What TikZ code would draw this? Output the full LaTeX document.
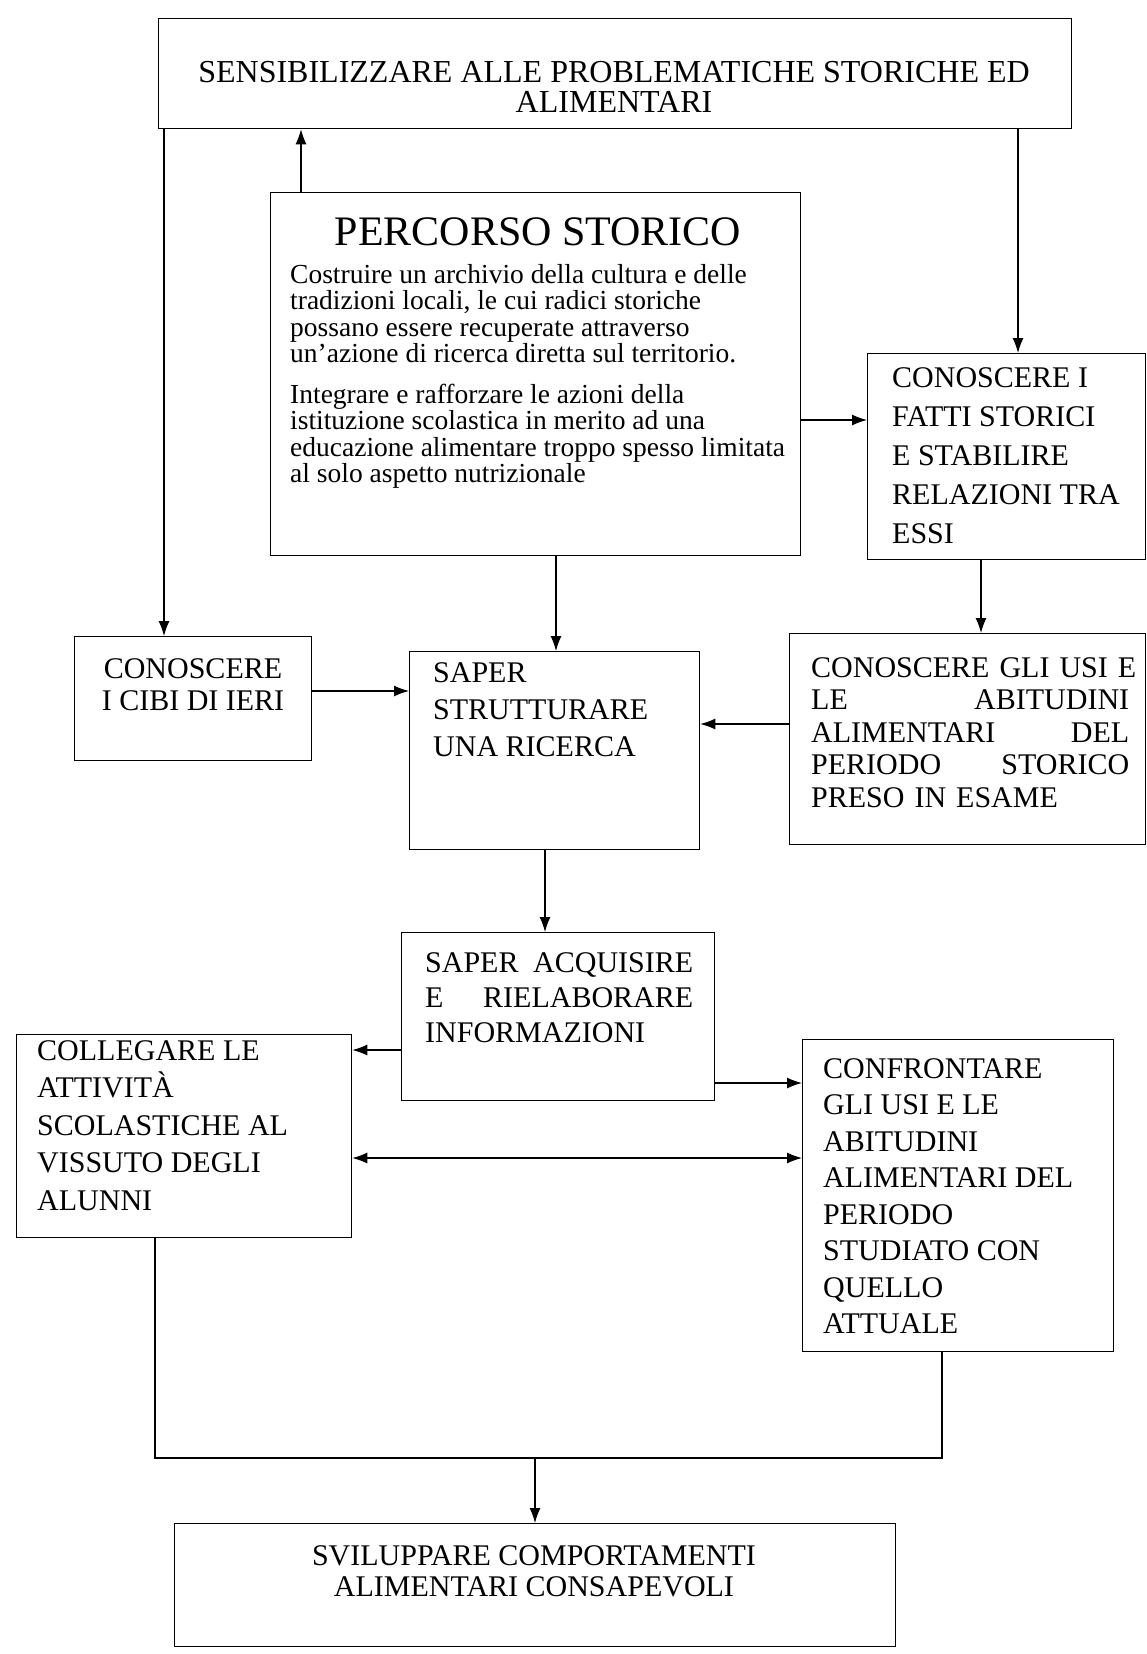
\documentclass[tikz,border=0pt]{standalone}
\usepackage{fontspec}
\setmainfont{Liberation Serif}
\usetikzlibrary{arrows.meta,calc}

\begin{document}
\begin{tikzpicture}[x=1pt,y=-1pt,
  box/.style={draw, line width=1.3pt, anchor=north west, inner sep=0pt},
  caps/.style={font=\fontsize{30}{#1}\selectfont, inner sep=0pt, align=left},
  arr/.style={line width=1.2pt, -{Latex[length=15pt,width=11pt]}},
  dblarr/.style={line width=1.2pt, {Latex[length=15pt,width=11pt]}-{Latex[length=15pt,width=11pt]}},
  link/.style={line width=1.2pt}]
\useasboundingbox[fill=white] (0,0) rectangle (1147,1654);

% ---------- boxes ----------
\node[box, minimum width=913pt, minimum height=110pt] (top) at (158,18) {};
\node[box, minimum width=530pt, minimum height=363pt] (percorso) at (270,192) {};
\node[box, minimum width=278pt, minimum height=206pt] (fatti) at (867,353) {};
\node[box, minimum width=237pt, minimum height=124pt] (cibi) at (74,636) {};
\node[box, minimum width=290pt, minimum height=198pt] (strutt) at (409,651) {};
\node[box, minimum width=356pt, minimum height=211pt] (usi) at (789,633) {};
\node[box, minimum width=313pt, minimum height=168pt] (acq) at (401,932) {};
\node[box, minimum width=335pt, minimum height=203pt] (colleg) at (16,1034) {};
\node[box, minimum width=311pt, minimum height=312pt] (confr) at (802,1039) {};
\node[box, minimum width=721pt, minimum height=123pt] (svil) at (174,1523) {};

% ---------- texts ----------
\node[inner sep=0pt, anchor=north, align=center, font=\fontsize{32}{30}\selectfont]
  (top-t) at (614,61) {SENSIBILIZZARE ALLE PROBLEMATICHE STORICHE ED\\ALIMENTARI};

\node[inner sep=0pt, anchor=center, font=\fontsize{42}{42}\selectfont]
  (percorso-title) at (538,232) {PERCORSO STORICO};
\node[inner sep=0pt, anchor=north west, align=left, font=\fontsize{27.5}{26.5}\selectfont]
  (percorso-t) at (290,264) {Costruire un archivio della cultura e delle\\
  tradizioni locali, le cui radici storiche\\
  possano essere recuperate attraverso\\
  un’azione di ricerca diretta sul territorio.\\[14pt]
  Integrare e rafforzare le azioni della\\
  istituzione scolastica in merito ad una\\
  educazione alimentare troppo spesso limitata\\
  al solo aspetto nutrizionale};

\node[caps=39, anchor=north west] (fatti-t) at (892,367)
  {CONOSCERE I\\FATTI STORICI\\E STABILIRE\\RELAZIONI TRA\\ESSI};
\node[caps=32, anchor=north, align=center] (cibi-t) at (193,658)
  {CONOSCERE\\I CIBI DI IERI};
\node[caps=37, anchor=north west] (strutt-t) at (433,662)
  {SAPER\\STRUTTURARE\\UNA RICERCA};
\node[caps=32.5, anchor=north west, text width=318pt] (usi-t) at (811,657)
  {\mbox{CONOSCERE GLI USI E}\\LE\hfill ABITUDINI\\ALIMENTARI\hfill DEL\\PERIODO\hfill STORICO\\PRESO IN ESAME};
\node[caps=35, anchor=north west, text width=268pt] (acq-t) at (425,952)
  {SAPER\hfill ACQUISIRE\\E\hfill RIELABORARE\\INFORMAZIONI};
\node[caps=37.5, anchor=north west] (colleg-t) at (37,1040)
  {COLLEGARE LE\\ATTIVITÀ\\SCOLASTICHE AL\\VISSUTO DEGLI\\ALUNNI};
\node[caps=36.5, anchor=north west] (confr-t) at (823,1058)
  {CONFRONTARE\\GLI USI E LE\\ABITUDINI\\ALIMENTARI DEL\\PERIODO\\STUDIATO CON\\QUELLO\\ATTUALE};
\node[caps=31, anchor=north, align=center] (svil-t) at (534,1545)
  {SVILUPPARE COMPORTAMENTI\\ALIMENTARI CONSAPEVOLI};

% ---------- connector anchor points ----------
\coordinate (topL) at ($(top.south west)+(6,0)$);
\coordinate (percT) at ($(percorso.north west)+(31,0)$);
\coordinate (fattiT) at ($(fatti.north west)+(151,0)$);
\coordinate (percR) at ($(percorso.north east)+(0,228)$);
\coordinate (fattiB) at ($(fatti.south west)+(114,0)$);
\coordinate (percB) at ($(percorso.south west)+(286,0)$);
\coordinate (cibiR) at ($(cibi.north east)+(0,55)$);
\coordinate (usiL) at ($(usi.north west)+(0,91)$);
\coordinate (struttB) at ($(strutt.south west)+(136,0)$);
\coordinate (acqL) at ($(acq.north west)+(0,118)$);
\coordinate (acqR) at ($(acq.north east)+(0,151)$);
\coordinate (collegR) at ($(colleg.north east)+(0,124)$);
\coordinate (collegB) at ($(colleg.south west)+(139,0)$);
\coordinate (confrB) at ($(confr.south west)+(140,0)$);
\coordinate (join) at (535,1458);

% ---------- connectors ----------
\draw[arr] (topL) -- (topL |- cibi.north);
\draw[arr] (percT) -- (percT |- top.south);
\draw[arr] (fattiT |- top.south) -- (fattiT);
\draw[arr] (percR) -- (percR -| fatti.west);
\draw[arr] (fattiB) -- (fattiB |- usi.north);
\draw[arr] (percB) -- (percB |- strutt.north);
\draw[arr] (cibiR) -- (cibiR -| strutt.west);
\draw[arr] (usiL) -- (usiL -| strutt.east);
\draw[arr] (struttB) -- (struttB |- acq.north);
\draw[arr] (acqL) -- (acqL -| colleg.east);
\draw[arr] (acqR) -- (acqR -| confr.west);
\draw[dblarr] (collegR) -- (collegR -| confr.west);
\draw[link] (collegB) |- (join) -| (confrB);
\draw[arr] (join) -- (join |- svil.north);
\end{tikzpicture}
\end{document}
